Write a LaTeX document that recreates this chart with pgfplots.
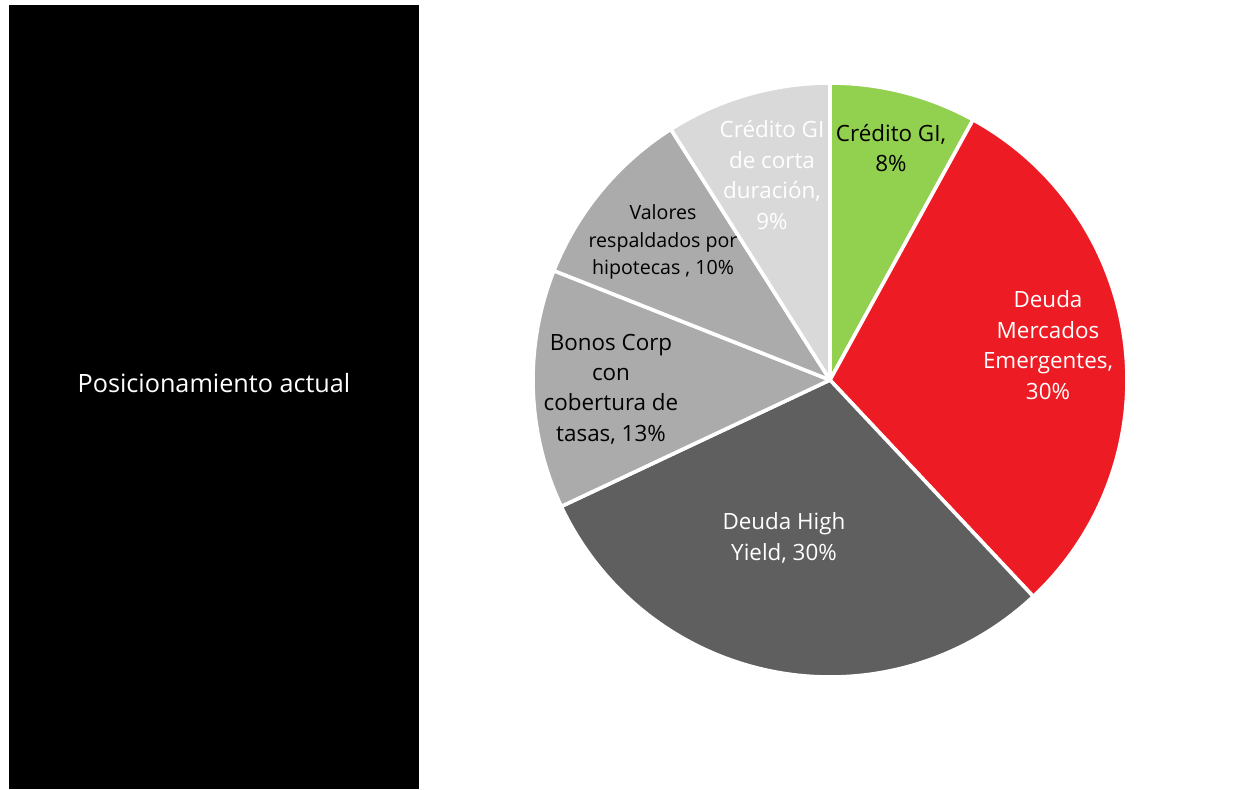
\documentclass[border=0pt]{standalone}
\usepackage{pgfplots}
\pgfplotsset{compat=1.18}
\usepackage{fontspec}
\setmainfont{Open Sans}
\definecolor{cgreen}{HTML}{92D050}
\definecolor{cred}{HTML}{ED1C24}
\definecolor{cdark}{HTML}{5F5F5F}
\definecolor{cmid}{HTML}{ABABAB}
\definecolor{clight}{HTML}{D9D9D9}
% wedge from cumulative percent #1 to #2
\newcommand\piewedge[3]{%
  \fill[#3, draw=white, line width=1.8pt, line join=round]
    (axis cs:0,0) -- ++({90-3.6*#1}:148.5pt)
    arc[start angle={90-3.6*#1}, end angle={90-3.6*#2}, radius=148.5pt] -- cycle;}
\begin{document}
\begin{tikzpicture}
\useasboundingbox (0,0) rectangle (618pt,394.5pt);
\fill[black] (4.5pt,0pt) rectangle (209.5pt,392pt);
\node[white, font=\fontsize{12.6}{15}\selectfont] at (107pt,203pt) {Posicionamiento actual};
\begin{axis}[at={(415pt,204.5pt)}, anchor=center, x=148.5pt, y=148.5pt,
  xmin=-1, xmax=1, ymin=-1, ymax=1, hide axis, clip=false]
% values: 8, 30, 30, 13, 10, 9 (cumulative 0,8,38,68,81,91,100)
\piewedge{0}{8}{cgreen}
\piewedge{8}{38}{cred}
\piewedge{38}{68}{cdark}
\piewedge{68}{81}{cmid}
\piewedge{81}{91}{cmid}
\piewedge{91}{100}{clight}
\end{axis}
\begin{scope}[every node/.style={align=center, font=\fontsize{11.2}{15.2}\selectfont, inner sep=0pt}]
\node[black] at (445.5pt,320.5pt) {Crédito GI,\\8\%};
\node[white] at (386pt,307pt) {Crédito GI\\de corta\\duración,\\9\%};
\node[black, font=\fontsize{9.8}{13.8}\selectfont] at (331.5pt,273.5pt) {Valores\\respaldados por\\hipotecas , 10\%};
\node[black] at (305.5pt,200pt) {Bonos Corp\\con\\cobertura de\\tasas, 13\%};
\node[white] at (392pt,125.5pt) {Deuda High\\Yield, 30\%};
\node[white] at (524pt,222pt) {Deuda\\Mercados\\Emergentes,\\30\%};
\end{scope}
\end{tikzpicture}
\end{document}
